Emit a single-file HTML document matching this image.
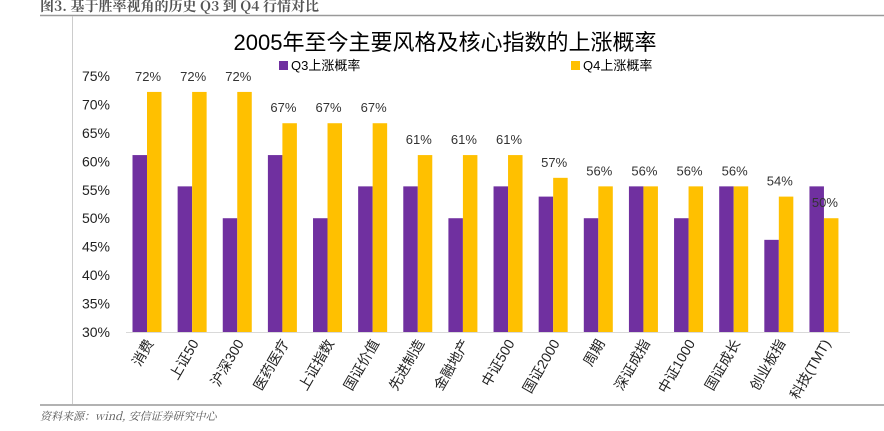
<!DOCTYPE html>
<html><head><meta charset="utf-8">
<style>
body{margin:0;background:#fff;width:884px;height:426px;overflow:hidden;font-family:"Liberation Sans","Noto Sans CJK SC",sans-serif;}
</style></head>
<body>
<svg width="884" height="426" xmlns="http://www.w3.org/2000/svg">
<text x="40" y="11" font-size="14" font-weight="bold" font-family="'Noto Serif CJK SC',serif" fill="#555">图3. 基于胜率视角的历史 Q3 到 Q4 行情对比</text>
<line x1="40" y1="15.5" x2="884" y2="15.5" stroke="#999" stroke-width="1.5"/>
<line x1="72.5" y1="16" x2="72.5" y2="404" stroke="#ccc"/>
<line x1="40" y1="405" x2="884" y2="405" stroke="#999" stroke-width="1.5"/>
<text x="40" y="420" font-size="11" font-style="italic" fill="#555" font-family="'Noto Serif CJK SC',serif">资料来源：wind, 安信证券研究中心</text>
<text x="445" y="50" font-size="22" text-anchor="middle" fill="#000">2005年至今主要风格及核心指数的上涨概率</text>
<rect x="279" y="61" width="9" height="9" fill="#7030a0"/>
<text x="291" y="70" font-size="13">Q3上涨概率</text>
<rect x="571" y="61" width="9" height="9" fill="#ffc000"/>
<text x="583" y="70" font-size="13">Q4上涨概率</text>
<g id="plot"></g>
</svg>
<script>
const categories=["消费","上证50","沪深300","医药医疗","上证指数","国证价值","先进制造","金融地产","中证500","国证2000","周期","深证成指","中证1000","国证成长","创业板指","科技(TMT)"];
const q3=[61.1,55.6,50,61.1,50,55.6,55.6,50,55.6,53.8,50,55.6,50,55.6,46.2,55.6];
const q4=[72.2,72.2,72.2,66.7,66.7,66.7,61.1,61.1,61.1,57.1,55.6,55.6,55.6,55.6,53.8,50];
const q4Labels=["72%","72%","72%","67%","67%","67%","61%","61%","61%","57%","56%","56%","56%","56%","54%","50%"];
const yTicks=[30,35,40,45,50,55,60,65,70,75];
const NS="http://www.w3.org/2000/svg";
const g=document.getElementById('plot');
const y=v=>332-(v-30)*256/45;
const x0=147,step=45.13,bw=14.5;
const cx=i=>x0+i*step;
function mk(t,a){const e=document.createElementNS(NS,t);for(const k in a)e.setAttribute(k,a[k]);g.appendChild(e);return e;}
yTicks.forEach(v=>{const t=mk('text',{x:96,y:y(v)+5,'font-size':14,'text-anchor':'middle',fill:'#222'});t.textContent=v+'%';

});
const ax=mk('line',{x1:126,x2:850,y1:332.5,y2:332.5,stroke:'#d9d9d9'});


categories.forEach((c,i)=>{
 const a=mk('rect',{x:cx(i)-bw,y:y(q3[i]),width:bw,height:332-y(q3[i]),fill:'#7030a0'});
 
 
 const b=mk('rect',{x:cx(i),y:y(q4[i]),width:bw,height:332-y(q4[i]),fill:'#ffc000'});
 
 
 const l=mk('text',{x:cx(i)+1,y:y(q4[i])-11,'font-size':13,'text-anchor':'middle',fill:'#333'});
 l.textContent=q4Labels[i];
 
 
 const px=cx(i)+7,py=343;
 const t=mk('text',{x:px,y:py,'font-size':14,'text-anchor':'end',fill:'#222',transform:`rotate(-60 ${px} ${py})`});
 t.textContent=c;
 
 
});
</script>
</body></html>
